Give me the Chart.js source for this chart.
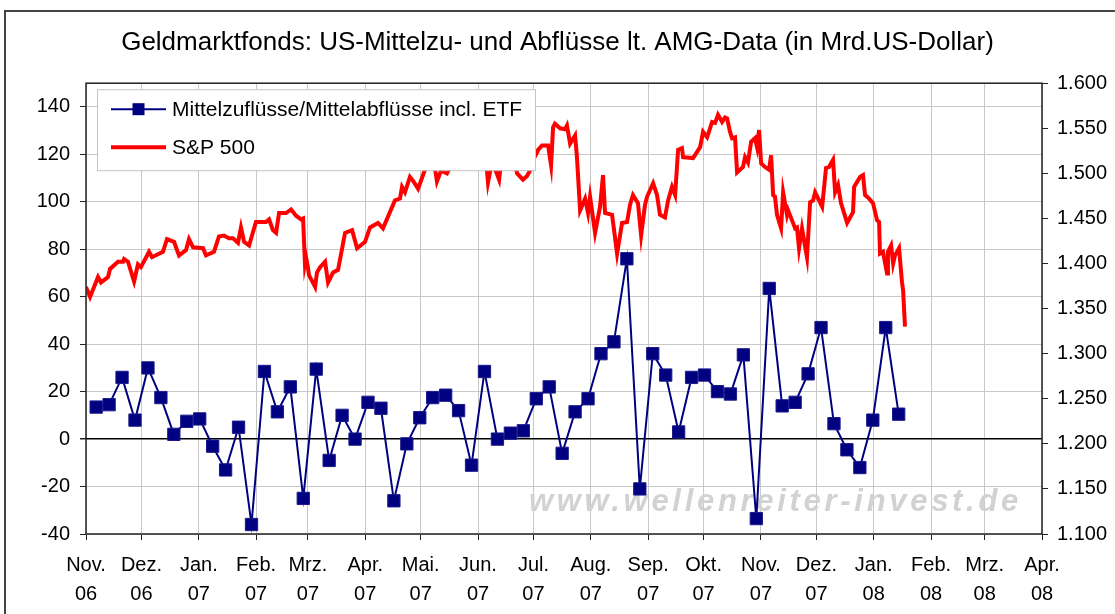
<!DOCTYPE html>
<html>
<head>
<meta charset="utf-8">
<script src="https://cdn.jsdelivr.net/npm/chart.js@4.4.0/dist/chart.umd.min.js"></script>
<style>
  html, body { margin: 0; padding: 0; background: #fff; }
  #wrap { position: relative; width: 1115px; height: 614px; overflow: hidden; }
  #frame { position: absolute; left: 4px; top: 10px; width: 1200px; height: 700px; border: 2px solid #444; box-sizing: border-box; }
  #chart { position: absolute; left: 0; top: 0; }
</style>
</head>
<body>
<div id="wrap">
  <div id="frame"></div>
  <canvas id="chart" width="1115" height="614"></canvas>
</div>
<script>
/* ── Daten ── */

// Monatsachse: Nov. 06 bis Apr. 08
const monthStarts = ['2006-11-01', '2006-12-01', '2007-01-01', '2007-02-01', '2007-03-01', '2007-04-01',
    '2007-05-01', '2007-06-01', '2007-07-01', '2007-08-01', '2007-09-01', '2007-10-01',
    '2007-11-01', '2007-12-01', '2008-01-01', '2008-02-01', '2008-03-01', '2008-04-01'];
const monthNames = ['Nov.', 'Dez.', 'Jan.', 'Feb.', 'Mrz.', 'Apr.', 'Mai.', 'Jun.', 'Jul.', 'Aug.', 'Sep.', 'Okt.',
    'Nov.', 'Dez.', 'Jan.', 'Feb.', 'Mrz.', 'Apr.'];
const monthYears = ['06', '06', '07', '07', '07', '07', '07', '07', '07', '07', '07', '07',
    '07', '07', '08', '08', '08', '08'];

// Wöchentliche Mittelzu-/abflüsse (Mrd. USD), erste Meldung ca. 7.11.2006
const flowFirstDate = '2006-11-07';
const flowValues = [13.5, 14.5, 26, 8, 30, 17.5, 2, 7.5, 8.5, -3,
    -13, 5, -36, 28.5, 11.5, 22, -25, 29.5, -9, 10,
    0, 15.5, 13, -26, -2, 9, 17.5, 18.5, 12, -11,
    28.5, 0, 2.5, 3.5, 17, 22, -6, 11.5, 17, 36,
    41, 76, -21, 36, 27, 3, 26, 27, 20, 19,
    35.5, -33.5, 63.5, 14, 15.5, 27.5, 47, 6.5, -4.5, -12,
    8, 47, 10.5];

// S&P 500: [Tage seit 1.11.2006, Schlusskurs]
const spx = [[0, 1374], [2.2, 1363], [6.5, 1385], [8.1, 1379], [11.9, 1385], [13, 1394], [17.3, 1402], [20, 1402],
    [20.6, 1405], [22.7, 1402], [26, 1380], [28.1, 1399], [29.7, 1396], [34.1, 1413], [35.7, 1407], [41.6, 1413],
    [43.8, 1427], [47.6, 1424], [50.3, 1409], [54.1, 1415], [55.7, 1427], [57.9, 1418], [63.3, 1417], [64.9, 1409],
    [69.2, 1413], [71.9, 1430], [74.6, 1431], [77.3, 1428], [79.5, 1428], [82.2, 1423], [83.8, 1440], [85.5, 1424],
    [88.2, 1420], [91.9, 1446], [97.3, 1446], [99, 1449], [101.1, 1437], [102.8, 1434], [104.4, 1456], [108.2, 1456],
    [110.9, 1460], [113.6, 1453], [116.3, 1449], [117.4, 1450], [118.4, 1400], [119, 1407], [120, 1396], [120.6, 1387],
    [123.9, 1374], [124.9, 1390], [126.6, 1396], [129.3, 1402], [130.9, 1379], [133.6, 1390], [136.3, 1393], [140.1, 1434],
    [143.9, 1437], [146.6, 1417], [150.9, 1424], [153.6, 1440], [157.9, 1445], [160.6, 1439], [167.1, 1470], [169.8, 1472],
    [170.9, 1485], [172.5, 1479], [175.2, 1496], [176.8, 1492], [179.6, 1483], [183.3, 1504], [186, 1507], [188.2, 1512],
    [189.8, 1491], [192, 1503], [195.2, 1500], [198, 1512], [200.6, 1522], [203.4, 1525], [206, 1515], [208.8, 1530],
    [211.5, 1531], [214.2, 1530], [216.3, 1515], [217.4, 1490], [219, 1507], [221.2, 1505], [223.4, 1493], [225, 1522],
    [227.7, 1533], [230.4, 1532], [233.1, 1500], [236.3, 1493], [238.5, 1497], [240.1, 1503], [241.8, 1515], [243.9, 1523],
    [244.5, 1526], [246.6, 1531], [249.9, 1531], [251.5, 1509], [252.6, 1551], [253.6, 1555], [256.4, 1550], [259.1, 1549],
    [260.1, 1553], [261.8, 1533], [264.5, 1542], [265.5, 1518], [267.2, 1459], [269.9, 1472], [271.5, 1456], [272.6, 1474],
    [275.3, 1434], [278, 1463], [279.6, 1498], [280.7, 1456], [284.5, 1454], [287.2, 1411], [289.9, 1445], [292.6, 1446],
    [294.2, 1465], [295.8, 1476], [298.5, 1467], [300.2, 1431], [302.3, 1465], [303.4, 1474], [306.7, 1489], [308.8, 1476],
    [310.4, 1454], [313.1, 1451], [314.8, 1470], [316.9, 1485], [318.6, 1476], [320.2, 1526], [322.3, 1528], [322.9, 1518],
    [328.3, 1517], [332.1, 1529], [333.7, 1546], [335.9, 1540], [338.6, 1557], [340.2, 1556], [341.8, 1565], [344, 1557],
    [345.6, 1562], [346.7, 1561], [348.3, 1546], [349.4, 1539], [351, 1540], [352.1, 1501], [355.3, 1507], [356.4, 1518],
    [358, 1512], [359.7, 1535], [361.8, 1539], [362.9, 1529], [364, 1548], [365.1, 1511], [367.2, 1507], [369.4, 1504],
    [370.5, 1520], [371.6, 1476], [372.6, 1474], [373.7, 1454], [375.9, 1439], [377, 1479], [379.1, 1454], [379.7, 1459],
    [383.5, 1439], [384.5, 1440], [385.6, 1417], [387.2, 1439], [389.9, 1407], [391.6, 1468], [393.2, 1470], [394.3, 1479],
    [398.1, 1463], [400.2, 1506], [401.8, 1507], [404, 1515], [405.1, 1479], [406.7, 1487], [408.3, 1467], [411.6, 1445],
    [413.2, 1451], [414.8, 1457], [415.4, 1485], [418.6, 1496], [420.2, 1498], [421.3, 1476], [423.5, 1472], [425.6, 1467],
    [427.8, 1448], [428.9, 1446], [429.4, 1411], [431, 1413], [433.2, 1389], [433.7, 1413], [435.4, 1420], [436.5, 1400],
    [437.5, 1409], [439.7, 1417], [441.3, 1379], [441.9, 1370], [442.9, 1330]];

const TITLE = 'Geldmarktfonds: US-Mittelzu- und Abflüsse lt. AMG-Data (in Mrd.US-Dollar)';
const WATERMARK = 'www.wellenreiter-invest.de';

/* ── Hilfsfunktionen ── */

const DAY = 86400000;
const origin = Date.parse(monthStarts[0]);
const dayOf = s => (Date.parse(s) - origin) / DAY;
const monthTicks = monthStarts.map(dayOf);
const flowStart = dayOf(flowFirstDate) - 0.5;

const flowPoints = flowValues.map((v, i) => ({ x: flowStart + i * 7, y: v }));
const spxPoints = spx.map(p => ({ x: p[0], y: p[1] }));

const FONT = '"Liberation Sans", Arial, sans-serif';
Chart.defaults.font.family = FONT;
Chart.defaults.color = '#000';

// Rahmen um die Zeichenfläche (oben fehlt sonst)
const plotFrame = {
    id: 'plotFrame',
    afterDatasetsDraw(chart) {
        const { ctx, chartArea: a } = chart;
        ctx.save();
        ctx.strokeStyle = '#222';
        ctx.lineWidth = 1.5;
        ctx.strokeRect(a.left, a.top, a.right - a.left, a.bottom - a.top);
        ctx.restore();
    },
};

// Wasserzeichen hinter den Linien
const watermark = {
    id: 'watermark',
    beforeDatasetsDraw(chart) {
        const { ctx, chartArea: a } = chart;
        ctx.save();
        ctx.font = 'italic bold 31px ' + FONT;
        ctx.fillStyle = '#d2d2d2';
        ctx.textAlign = 'right';
        ctx.textBaseline = 'alphabetic';
        ctx.letterSpacing = '3.7px';
        ctx.fillText(WATERMARK, a.right - 20, a.bottom - 23);
        ctx.restore();
    },
};

// Legende im Diagramm, deckt die Linien ab
const boxLegend = {
    id: 'boxLegend',
    afterDatasetsDraw(chart) {
        const { ctx, chartArea: a } = chart;
        const x = a.left + 11, y = a.top + 6, w = 438, h = 81;
        ctx.save();
        ctx.fillStyle = '#fff';
        ctx.fillRect(x, y, w, h);
        ctx.strokeStyle = '#c4c4c4';
        ctx.lineWidth = 1;
        ctx.strokeRect(x + 0.5, y + 0.5, w, h);
        chart.data.datasets.forEach((ds, i) => {
            const cy = y + 20 + i * 38;
            ctx.strokeStyle = ds.borderColor;
            ctx.lineWidth = ds.borderWidth;
            ctx.beginPath();
            ctx.moveTo(x + 14, cy);
            ctx.lineTo(x + 69, cy);
            ctx.stroke();
            if (ds.pointRadius) {
                ctx.fillStyle = ds.pointBackgroundColor;
                ctx.fillRect(x + 41.5 - 6, cy - 6, 12, 12);
            }
            ctx.fillStyle = '#000';
            ctx.font = '21px ' + FONT;
            ctx.textBaseline = 'middle';
            ctx.fillText(ds.label, x + 75, cy + 1);
        });
        ctx.restore();
    },
};

new Chart(document.getElementById('chart'), {
    type: 'line',
    data: {
        datasets: [{
            label: 'Mittelzuflüsse/Mittelabflüsse incl. ETF',
            data: flowPoints,
            yAxisID: 'y',
            borderColor: '#000080',
            borderWidth: 2,
            pointStyle: 'rect',
            pointRadius: 8.7,
            pointBackgroundColor: '#000080',
            pointBorderColor: '#1a1a8c',
            pointBorderWidth: 1,
            tension: 0,
        }, {
            label: 'S&P 500',
            data: spxPoints,
            yAxisID: 'y2',
            borderColor: '#ff0000',
            borderWidth: 4,
            pointRadius: 0,
            tension: 0,
        }],
    },
    options: {
        responsive: false,
        animation: false,
        devicePixelRatio: 1,
        layout: { padding: 0 },
        plugins: {
            legend: { display: false },
            tooltip: { enabled: false },
            title: {
                display: true,
                text: TITLE,
                font: { size: 26, weight: 'normal', family: FONT, lineHeight: 1.2 },
                color: '#000',
                padding: { top: 27, bottom: 25 },
            },
        },
        scales: {
            x: {
                type: 'linear',
                min: monthTicks[0],
                max: monthTicks[monthTicks.length - 1],
                afterBuildTicks: axis => { axis.ticks = monthTicks.map(v => ({ value: v })); },
                afterFit: axis => { axis.height = 80; },
                grid: { color: '#c8c8c8', lineWidth: 1, tickColor: '#222', tickLength: 6 },
                border: { display: false },
                ticks: {
                    autoSkip: false,
                    maxRotation: 0,
                    padding: 11,
                    font: { size: 20, lineHeight: 1.45 },
                    callback: (v, i) => [monthNames[i], monthYears[i]],
                },
            },
            y: {
                position: 'left',
                min: -40,
                max: 150,
                afterBuildTicks: axis => { axis.ticks = axis.ticks.filter(t => t.value % 20 === 0); },
                afterFit: axis => { axis.width = 86; },
                grid: {
                    color: c => c.tick && c.tick.value === 0 ? '#000' : '#c8c8c8',
                    lineWidth: c => c.tick && c.tick.value === 0 ? 1.5 : 1,
                    tickColor: '#222',
                    tickLength: 6,
                },
                border: { display: false },
                ticks: { stepSize: 20, padding: 10, font: { size: 20 } },
            },
            y2: {
                position: 'right',
                min: 1100,
                max: 1600,
                afterFit: axis => { axis.width = 73; },
                grid: { drawOnChartArea: false, tickColor: '#222', tickLength: 6 },
                border: { display: false },
                ticks: {
                    stepSize: 50,
                    padding: 9,
                    font: { size: 20 },
                    callback: v => (v / 1000).toFixed(3),
                },
            },
        },
    },
    plugins: [watermark, boxLegend, plotFrame],
});
</script>
</body>
</html>
